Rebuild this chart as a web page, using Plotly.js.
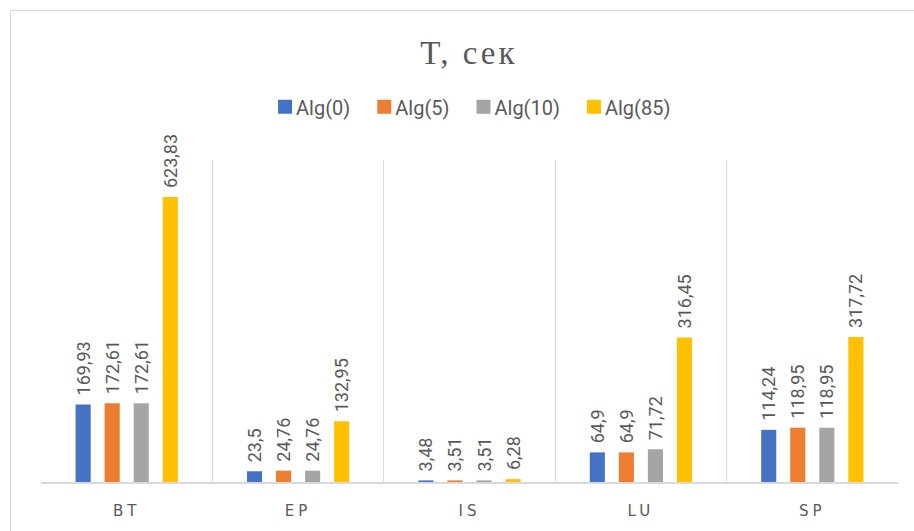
<!DOCTYPE html>
<html>
<head>
<meta charset="utf-8">
<script src="https://cdn.plot.ly/plotly-3.0.1.min.js"></script>
<style>
html,body{margin:0;padding:0;background:#fff;}
#wrap{position:relative;width:914px;height:531px;overflow:hidden;}
#chart{width:914px;height:531px;}
#frame{position:absolute;left:10px;top:10px;width:903px;height:540px;border:1.5px solid #d9d9d9;border-right:none;pointer-events:none;}
.xtick text{letter-spacing:4px;}
.gtitle{letter-spacing:3px;}
</style>
</head>
<body>
<div id="wrap"><div id="chart"></div><div id="frame"></div></div>
<script>
const categories = ['BT', 'EP', 'IS', 'LU', 'SP'];
const seriesNames = ['Alg(0)', 'Alg(5)', 'Alg(10)', 'Alg(85)'];
const alg0  = [169.93, 23.5, 3.48, 64.9, 114.24];
const alg5  = [172.61, 24.76, 3.51, 64.9, 118.95];
const alg10 = [172.61, 24.76, 3.51, 71.72, 118.95];
const alg85 = [623.83, 132.95, 6.28, 316.45, 317.72];
const colors = ['#4472C4', '#ED7D31', '#A5A5A5', '#FFC000'];

const fmt = v => String(v).replace('.', ',');
const allSeries = [alg0, alg5, alg10, alg85];
const traces = allSeries.map((vals, i) => ({
  type: 'bar',
  name: seriesNames[i],
  x: categories,
  y: vals,
  marker: {color: colors[i]},
  text: vals.map(fmt),
  textposition: 'outside',
  textangle: -90,
  constraintext: 'none',
  cliponaxis: false,
  textfont: {family: 'Roboto', size: 18, color: '#595959'},
  hoverinfo: 'x+y'
}));

const layout = {
  width: 914, height: 531,
  margin: {l: 41, r: 16, t: 160, b: 49},
  paper_bgcolor: '#ffffff', plot_bgcolor: '#ffffff',
  title: {text: 'Т, сек', x: 0.513, xanchor: 'center', y: 0.902, yanchor: 'middle',
          font: {family: 'Liberation Serif', size: 33, color: '#595959'}},
  showlegend: true,
  legend: {orientation: 'h', x: 0.496, xanchor: 'center', y: 1.165, yanchor: 'middle',
           font: {family: 'Roboto', size: 20, color: '#595959'},
           itemwidth: 30, tracegroupgap: 0, traceorder: 'normal'},
  barmode: 'group',
  bargap: 0.322,
  bargroupgap: 0.48,
  xaxis: {
    type: 'category',
    tickson: 'boundaries',
    showgrid: true, gridcolor: '#d9d9d9', gridwidth: 1,
    showline: true, linecolor: '#d9d9d9', linewidth: 1.5,
    ticks: '', ticklabelstandoff: 14,
    tickfont: {family: 'DejaVu Sans', size: 15, color: '#595959'},
    zeroline: false
  },
  yaxis: {
    range: [0, 705],
    showgrid: false, zeroline: false, showticklabels: false, ticks: '', showline: false
  }
};

Plotly.newPlot('chart', traces, layout, {displayModeBar: false, staticPlot: true}).then(() => {
  document.querySelectorAll('.legend .legendpoints').forEach(g => {
    g.setAttribute('transform', (g.getAttribute('transform') || '') + ' translate(9,0)');
    g.querySelectorAll('path').forEach(p => p.setAttribute('d', 'M7,7H-7V-7H7Z'));
  });
  document.querySelectorAll('.bartext').forEach(t => {
    t.setAttribute('transform', 'translate(0,-6) ' + (t.getAttribute('transform') || ''));
  });
});
</script>
</body>
</html>
